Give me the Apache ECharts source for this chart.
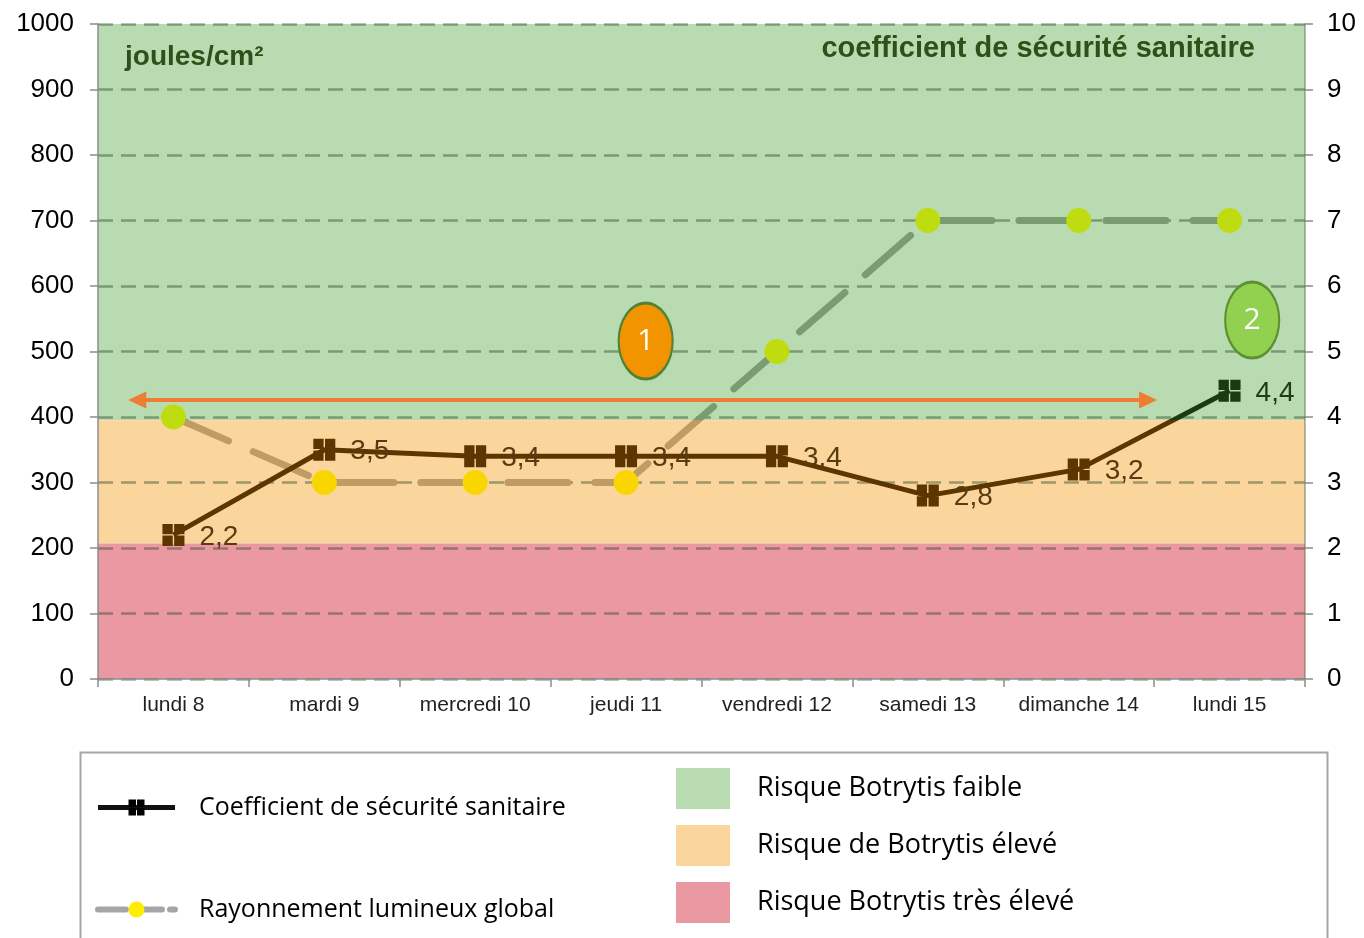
<!DOCTYPE html>
<html>
<head>
<meta charset="utf-8">
<script src="https://cdn.jsdelivr.net/npm/echarts@6/dist/echarts.min.js"></script>
<style>
html, body { margin: 0; padding: 0; background: #fff; }
#main { width: 1364px; height: 938px; }
</style>
</head>
<body>
<div id="main"></div>
<script>
// données
const categories = ['lundi 8', 'mardi 9', 'mercredi 10', 'jeudi 11', 'vendredi 12', 'samedi 13', 'dimanche 14', 'lundi 15'];
const coefficient = [2.2, 3.5, 3.4, 3.4, 3.4, 2.8, 3.2, 4.4];
const rayonnement = [400, 300, 300, 300, 500, 700, 700, 700];
const leftTicks = [0, 100, 200, 300, 400, 500, 600, 700, 800, 900, 1000];
const rightTicks = [0, 1, 2, 3, 4, 5, 6, 7, 8, 9, 10];

// zones de risque (joules/cm²)
const zoneNames = ['Risque Botrytis faible', 'Risque de Botrytis élevé', 'Risque Botrytis très élevé'];
const zoneLimits = [[395, 1000], [207, 395], [0, 207]];
const zoneColors = ['#b9dbb1', '#fad69d', '#ea99a3'];

// annotations (index de jour, joules/cm²)
const arrowSpan = [[-0.24, 426], [6.46, 426]];
const bubbleLabels = ['1', '2'];
const bubbleCoords = [[3.13, 516], [7.15, 548]];
const bubbleFill = ['#f29400', '#92d050'];
const bubbleBorder = ['#548235', '#5e8f31'];

const seuil = zoneLimits[0][0];
const leftMax = leftTicks[leftTicks.length - 1];
const rightMax = rightTicks[rightTicks.length - 1];
const fmt = v => v.toFixed(1).replace('.', ',');

let myChart = echarts.init(document.getElementById('main'));
let option;

let zoneSeries = zoneNames.map(function(n, i){
    return {
        name: n,
        type: 'line',
        data: [],
        color: zoneColors[i],
        markArea: {
            z: -1,
            silent: true,
            itemStyle: { color: zoneColors[i] },
            data: [[{ yAxis: zoneLimits[i][0] }, { yAxis: zoneLimits[i][1] }]]
        }
    };
});

option = {
    animation: false,
    grid: { left: 98, right: 59, top: 24, bottom: 259, containLabel: false, outerBoundsMode: 'none' },
    xAxis: [
        {
            type: 'category',
            data: categories,
            boundaryGap: true,
            axisLine: { lineStyle: { color: '#8c8c8c', width: 1.5 } },
            axisTick: { show: true, interval: 0, length: 8, lineStyle: { color: '#8c8c8c', width: 1.5 } },
            axisLabel: { interval: 0, fontSize: 21, color: '#222', margin: 16, fontFamily: 'Liberation Sans' },
            splitLine: { show: false }
        },
        { type: 'value', min: -0.5, max: 7.5, show: false }
    ],
    yAxis: [
        {
            type: 'value',
            min: leftTicks[0],
            max: leftMax,
            interval: leftTicks[1] - leftTicks[0],
            axisLine: { show: true, onZero: false, lineStyle: { color: '#8c8c8c', width: 1.5 } },
            axisTick: { show: true, length: 8, lineStyle: { color: '#8c8c8c', width: 1.5 } },
            axisLabel: { fontSize: 26, color: '#000', margin: 24, fontFamily: 'Liberation Sans',
                         formatter: function(v){ return String(v); } },
            splitLine: { show: true, lineStyle: { color: 'rgba(50,70,40,0.45)', width: 2.5, type: [15, 8] } }
        },
        {
            type: 'value',
            position: 'right',
            min: rightTicks[0],
            max: rightMax,
            interval: rightTicks[1] - rightTicks[0],
            axisLine: { show: true, onZero: false, lineStyle: { color: 'rgba(90,110,80,0.6)', width: 1.5 } },
            axisTick: { show: true, length: 8, lineStyle: { color: '#8c8c8c', width: 1.5 } },
            axisLabel: { fontSize: 26, color: '#000', margin: 22, fontFamily: 'Liberation Sans' },
            splitLine: { show: false }
        }
    ],
    visualMap: [
        { type: 'piecewise', show: false, seriesIndex: 3, dimension: 1,
          pieces: [{ gte: 0, lt: seuil, color: '#bf9c63' }, { gte: seuil, lte: leftMax, color: '#7b9b71' }] },
        { type: 'piecewise', show: false, seriesIndex: 4, dimension: 1,
          pieces: [{ gte: 0, lt: seuil, color: '#fad600' }, { gte: seuil, lte: leftMax, color: '#bfdc11' }] },
        { type: 'piecewise', show: false, seriesIndex: 5, dimension: 1,
          pieces: [{ gte: 0, lt: seuil / 100, color: '#5c3500' }, { gte: seuil / 100, lte: rightMax, color: '#1b3b12' }] }
    ],
    legend: [
        {
            orient: 'vertical',
            left: 95,
            top: 795,
            padding: 0,
            itemWidth: 77,
            itemHeight: 20,
            itemGap: 77,
            selectedMode: false,
            textStyle: { fontSize: 25, fontFamily: 'Open Sans', color: '#000', padding: [0, 0, 0, 19] },
            data: [
                { name: 'Coefficient de sécurité sanitaire', itemStyle: { color: '#000' }, lineStyle: { color: '#111', width: 5 } },
                { name: 'Rayonnement lumineux global', itemStyle: { color: '#ffee00' }, lineStyle: { color: '#a6a6a6', width: 6, type: [28, 8] } }
            ]
        },
        {
            orient: 'vertical',
            left: 676,
            top: 768,
            padding: 0,
            icon: 'rect',
            itemWidth: 54,
            itemHeight: 41,
            itemGap: 16,
            selectedMode: false,
            textStyle: { fontSize: 27, fontFamily: 'Open Sans', color: '#000', padding: [0, 0, 0, 22] },
            data: zoneNames.map(function(n, i){ return { name: n, itemStyle: { color: zoneColors[i] } }; })
        }
    ],
    graphic: [
        { type: 'rect', left: 78, top: 750, z: -5, shape: { width: 1247, height: 200 },
          style: { fill: 'none', stroke: '#a6a6a6', lineWidth: 2 } },
        { type: 'text', left: 125, top: 43, z: 10,
          style: { text: 'joules/cm²', font: 'bold 28px "Liberation Sans"', fill: '#2d5219' } },
        { type: 'text', right: 109, top: 34, z: 10,
          style: { text: 'coefficient de sécurité sanitaire', font: 'bold 29px "Liberation Sans"', fill: '#2d5219' } }
    ],
    series: zoneSeries.concat([
        {
            name: 'Rayonnement lumineux global',
            type: 'line',
            data: rayonnement,
            showSymbol: false,
            symbol: 'circle',
            symbolSize: 14,
            z: 3,
            lineStyle: { width: 7, type: [60, 27], cap: 'round' }
        },
        {
            name: 'rayonnement-points',
            type: 'scatter',
            data: rayonnement,
            symbol: 'circle',
            symbolSize: 25,
            itemStyle: { opacity: 1 },
            z: 4
        },
        {
            name: 'Coefficient de sécurité sanitaire',
            type: 'line',
            yAxisIndex: 1,
            data: coefficient.map(function(v){
                return { value: v, label: { color: v >= seuil / 100 ? '#1e3d14' : '#5a3a10' } };
            }),
            symbol: 'path://M0,0h10.2v10.2h-10.2z M11.6,0h10.2v10.2h-10.2z M0,11.6h10.2v10.2h-10.2z M11.6,11.6h10.2v10.2h-10.2z',
            symbolSize: 22,
            z: 5,
            itemStyle: { opacity: 1 },
            lineStyle: { width: 5 },
            label: {
                show: true,
                position: 'right',
                distance: 15,
                offset: [0, 2],
                fontSize: 28,
                fontFamily: 'Liberation Sans',
                formatter: function(p){ return fmt(p.value); }
            }
        },
        {
            name: 'fleche',
            type: 'line',
            xAxisIndex: 1,
            data: [],
            markLine: {
                silent: true,
                symbol: ['triangle', 'triangle'],
                symbolSize: [17, 18],
                label: { show: false },
                lineStyle: { color: '#ed7d31', width: 4, type: 'solid' },
                data: [[{ coord: arrowSpan[0] }, { coord: arrowSpan[1] }]]
            }
        },
        {
            name: 'bulles',
            type: 'scatter',
            xAxisIndex: 1,
            symbol: 'circle',
            symbolSize: [54, 76],
            z: 6,
            data: bubbleLabels.map(function(l, i){
                return {
                    name: l,
                    value: bubbleCoords[i],
                    itemStyle: { color: bubbleFill[i], borderColor: bubbleBorder[i], borderWidth: 2.5, opacity: 1 }
                };
            }),
            label: { show: true, position: 'inside', formatter: '{b}', color: '#fff', fontSize: 30, fontFamily: 'Open Sans' }
        }
    ])
};

option && myChart.setOption(option);
</script>
</body>
</html>
